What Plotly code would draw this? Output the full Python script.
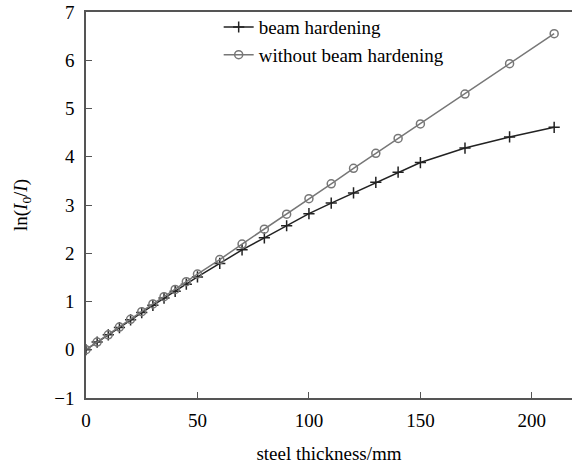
import plotly.graph_objects as go

thickness = [0, 5, 10, 15, 20, 25, 30, 35, 40, 45, 50, 60, 70, 80, 90, 100,
             110, 120, 130, 140, 150, 170, 190, 210]
beam_hardening = [0, 0.16, 0.31, 0.46, 0.62, 0.77, 0.92, 1.07, 1.21, 1.36, 1.51,
                  1.79, 2.07, 2.32, 2.57, 2.82, 3.04, 3.25, 3.47, 3.68, 3.88,
                  4.18, 4.41, 4.61]
without_hardening = [0, 0.16, 0.31, 0.47, 0.63, 0.79, 0.95, 1.10, 1.25, 1.41, 1.57,
                     1.87, 2.19, 2.50, 2.81, 3.13, 3.44, 3.76, 4.07, 4.38, 4.68,
                     5.30, 5.93, 6.55]
x_ticks = [0, 50, 100, 150, 200]
y_ticks = [-1, 0, 1, 2, 3, 4, 5, 6, 7]
y_tick_labels = ["\u22121", "0", "1", "2", "3", "4", "5", "6", "7"]

font = "Times New Roman"

fig = go.Figure()
fig.add_trace(go.Scatter(
    x=thickness, y=beam_hardening, mode="lines+markers", name="beam hardening",
    line=dict(color="#222222", width=1.5),
    marker=dict(symbol="cross-thin", size=8, line=dict(color="#222222", width=1.5)),
))
fig.add_trace(go.Scatter(
    x=thickness, y=without_hardening, mode="lines+markers", name="without beam hardening",
    line=dict(color="#777777", width=1.5),
    marker=dict(symbol="circle-open", size=8, color="#777777", line=dict(width=1.5)),
))

fig.update_layout(
    width=572, height=464,
    margin=dict(l=86, r=0, t=12, b=66),
    paper_bgcolor="white", plot_bgcolor="white",
    font=dict(family=font, size=19, color="black"),
    showlegend=True,
    legend=dict(x=0.273, y=1.01, xanchor="left", yanchor="top",
                bgcolor="rgba(0,0,0,0)", font=dict(size=19, family=font, color="black"),
                tracegroupgap=0, itemwidth=30),
    xaxis=dict(range=[0, 218], tickvals=x_ticks, ticks="inside", ticklen=6,
               tickcolor="#555555", showline=True, linecolor="#555555", linewidth=1.5,
               mirror=True, showgrid=False, zeroline=False, automargin=False,
               ticklabelstandoff=4,
               title=dict(text="steel thickness/mm", standoff=20,
                          font=dict(family=font, size=19, color="black")),
               tickfont=dict(family=font, size=19, color="black")),
    yaxis=dict(range=[-1, 7], tickvals=y_ticks, ticktext=y_tick_labels,
               ticks="inside", ticklen=6, tickcolor="#555555",
               showline=True, linecolor="#555555", linewidth=1.5, mirror=False,
               showgrid=False, zeroline=False, automargin=False,
               ticklabelstandoff=6, ticklabeloverflow="allow",
               title=dict(text="ln(<i>I</i><sub>0</sub>/<i>I</i>)", standoff=22,
                          font=dict(family=font, size=19, color="black")),
               tickfont=dict(family=font, size=19, color="black")),
)

fig.write_html("out.html", config={"displayModeBar": False},
               post_script="document.body.style.margin='0';")
